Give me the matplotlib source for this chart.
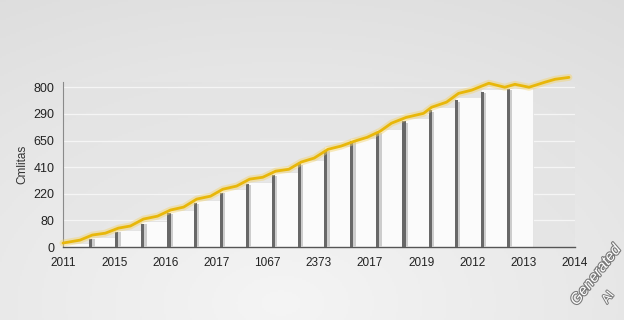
import numpy as np
import matplotlib
matplotlib.use('Agg')
import matplotlib.pyplot as plt
import matplotlib.patheffects as pe

plt.rcParams['font.family'] = ['Liberation Sans', 'DejaVu Sans']

# bar heights, in gridline units (100 per gridline)
bar_values = [15, 37, 64, 97, 139, 176, 217, 244, 281, 326, 379, 409, 442, 484, 525, 562, 592, 596]

# yellow trend line
line_x = [0, 0.65, 1.12, 1.62, 2.12, 2.58, 3.08, 3.62, 4.12, 4.62, 5.12, 5.65, 6.12, 6.65,
          7.15, 7.65, 8.15, 8.65, 9.12, 9.62, 10.15, 10.65, 11.15, 11.65, 12.15, 12.58,
          13.15, 13.81, 14.12, 14.69, 15.15, 15.65, 16.31, 16.92, 17.31, 17.85, 18.46,
          18.85, 19.38]
line_y = [15, 26, 45, 52, 71, 79, 105, 116, 139, 150, 180, 191, 217, 229, 255, 262, 285,
          292, 319, 334, 367, 379, 397, 412, 435, 465, 487, 502, 525, 544, 577, 589, 615,
          600, 611, 600, 619, 630, 637]

y_tick_labels = ['0', '80', '220', '410', '650', '290', '800']
x_tick_labels = ['2011', '2015', '2016', '2017', '1067', '2373', '2017', '2019', '2012', '2013', '2014']
y_label = 'Cmlitas'

fig = plt.figure(figsize=(6.24, 3.2), dpi=100)

# background gradient
bg = fig.add_axes([0, 0, 1, 1], zorder=-10)
yy, xx = np.mgrid[0:1:160j, 0:1:312j]
shade = 0.96 - 0.09 * np.sqrt(((xx - 0.45) / 0.9) ** 2 + ((yy - 0.95) / 1.1) ** 2)
shade = np.clip(shade, 0.8, 0.975)
bg.imshow(np.dstack([shade] * 3), extent=[0, 1, 0, 1], aspect='auto', origin='upper')
bg.axis('off')

ax = fig.add_axes([0.101, 0.228, 0.82, 0.516])
ax.set_facecolor('#e2e2e2')
ax.patch.set_alpha(0.45)

n = len(bar_values)
xs = np.arange(n)
ax.bar(xs, bar_values, width=1.0, align='edge', color='#fbfbfb', edgecolor='#e2e2e2',
       linewidth=0.6, zorder=2)
prev = [bar_values[0]] + bar_values[:-1]
edge_h = [0.3 * a + 0.7 * b for a, b in zip(prev, bar_values)]
ax.bar(xs[1:] + 0.11, [h * 0.99 for h in edge_h[1:]], width=0.1, align='edge',
       color='#cdcdcd', linewidth=0, zorder=3)
ax.bar(xs[1:], edge_h[1:], width=0.12, align='edge', color='#686868', linewidth=0, zorder=3)

ax.plot(line_x, line_y, color='#f3d36a', lw=5, alpha=0.45, zorder=4,
        solid_capstyle='round', clip_on=False)
ax.plot(line_x, line_y, color='#e8b70a', lw=2.0, zorder=5,
        solid_capstyle='round', clip_on=False)

ax.set_xlim(0, 19.6)
ax.set_ylim(0, 620)
ax.set_yticks(np.arange(0, 601, 100))
ax.set_yticklabels(y_tick_labels)
ax.set_xticks(np.linspace(0, 19.6, 11))
ax.set_xticklabels(x_tick_labels)
ax.tick_params(axis='x', length=0, pad=7, labelsize=8.5, colors='#222222')
ax.tick_params(axis='y', length=0, pad=6, labelsize=9, colors='#222222')
ax.set_ylabel(y_label, fontsize=8.5, color='#333333', labelpad=4)
ax.grid(axis='y', color='#f5f5f5', lw=0.9, zorder=0)
ax.set_axisbelow(True)

for s in ['top', 'right']:
    ax.spines[s].set_visible(False)
ax.spines['left'].set_color('#8a8a8a')
ax.spines['bottom'].set_color('#555555')
ax.spines['bottom'].set_linewidth(1.0)

# watermark
fig.text(0.955, 0.14, 'Generated', rotation=52, fontsize=11, style='italic',
         color='white', ha='center', va='center',
         path_effects=[pe.withStroke(linewidth=1.6, foreground='#7a7a7a')])
fig.text(0.975, 0.07, 'AI', rotation=52, fontsize=9, color='white', ha='center', va='center',
         path_effects=[pe.withStroke(linewidth=1.4, foreground='#7a7a7a')])

fig.savefig('out.png', dpi=100)
